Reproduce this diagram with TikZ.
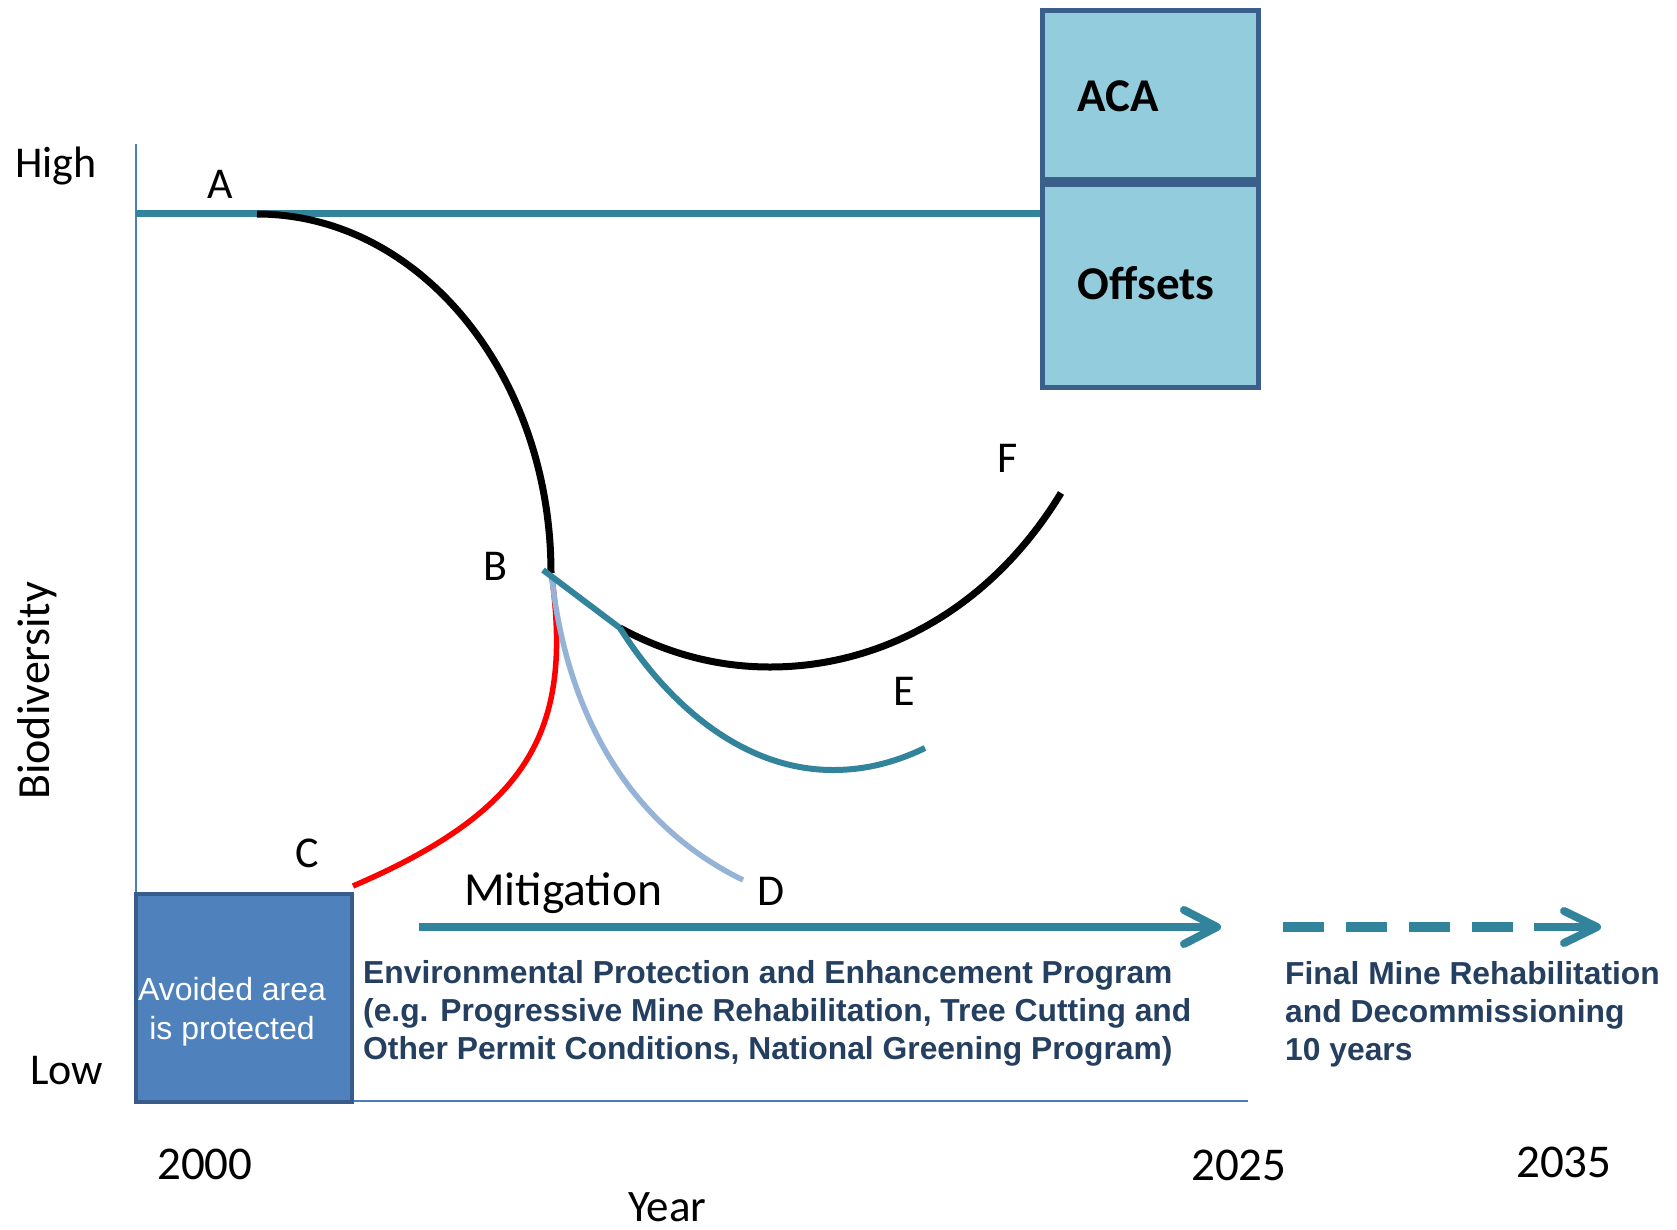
\documentclass[tikz,border=0pt]{standalone}
\usepackage{fontspec}
\setmainfont{Carlito}
\newfontfamily\arialfont{Liberation Sans}
\usetikzlibrary{calc}
\definecolor{tealc}{HTML}{31849B}
\definecolor{axisblue}{HTML}{4A7EBB}
\definecolor{boxfill}{HTML}{93CDDD}
\definecolor{boxdraw}{HTML}{3A5F8B}
\definecolor{avoidfill}{HTML}{4F81BD}
\definecolor{avoiddraw}{HTML}{385D8A}
\definecolor{ltblue}{HTML}{95B3D7}
\definecolor{txtblue}{HTML}{243F60}
\begin{document}
\begin{tikzpicture}[x=1pt,y=-1pt,
  lbl/.style={inner sep=0pt, anchor=base west, font=\fontsize{44pt}{50pt}\selectfont},
  yr/.style={inner sep=0pt, anchor=base west, font=\fontsize{47pt}{52pt}\selectfont},
  bodytxt/.style={inner sep=0pt, anchor=base west, align=left, text=txtblue,
     font=\arialfont\bfseries\fontsize{31.8pt}{38.3pt}\selectfont},
  axisline/.style={axisblue, line width=2.5pt},
  offbox/.style={draw=boxdraw, fill=boxfill, line width=5pt, minimum width=216pt, inner sep=0pt},
  boxlbl/.style={inner sep=0pt, anchor=west, font=\bfseries\fontsize{47pt}{52pt}\selectfont},
  curve/.style={line width=#1, line cap=butt},
  arrowline/.style={tealc, line width=8pt},
  chevron/.style={tealc, line width=8pt, line cap=round, line join=round}
]
\useasboundingbox (0,0) rectangle (1677,1229);
\fill[white] (0,0) rectangle (1677,1229);

% axes
\coordinate (ytop) at (136,144);
\coordinate (orig) at (136,1101);
\coordinate (xend) at (1248,1101);
\draw[axisline] (ytop) -- (orig) -- (xend);

% ACA / Offsets boxes
\node[offbox, minimum height=169.5pt] (aca) at (1150,94.75) {};
\node[offbox, minimum height=202.5pt] (off) at (1150,285.75) {};
\node[boxlbl] (acat) at ($(aca.west)+(38,1)$) {ACA};
\node[boxlbl] (offt) at ($(off.west)+(38,-3)$) {Offsets};

% baseline A
\coordinate (a0) at (136,213.5);
\draw[tealc, line width=7pt] (a0) -- (a0 -| off.west);

% curves
\coordinate (Astart) at (257,214);
\coordinate (B) at (551,573);
\coordinate (Bt) at (543,570);
\coordinate (Bk) at (552,578);
\coordinate (K) at (620,628);
\coordinate (Cend) at (353,886);
\coordinate (Dend) at (743,880);
\coordinate (Eend) at (925,748);
\coordinate (Fend) at (1061,493);

\draw[curve=7pt, black] (Astart) .. controls (419,214) and (551,374) .. (B);
\draw[curve=5.5pt, red] (Bk) .. controls (572,730) and (530,810) .. (Cend);
\draw[curve=5.5pt, ltblue] (Bk) .. controls (565,700) and (620,820) .. (Dend);
\draw[curve=7pt, black] (K) .. controls (670,655) and (720,667) .. (770,667)
   .. controls (880,667) and (990,610) .. (Fend);
\draw[curve=6pt, tealc] (Bt) -- (K);
\draw[curve=6pt, tealc] (K) .. controls (665,700) and (740,770) .. (833,770)
   .. controls (870,770) and (900,760) .. (Eend);

% avoided area box
\node[draw=avoiddraw, fill=avoidfill, line width=4pt, minimum width=216pt, minimum height=208pt, inner sep=0pt] (avoid) at (244,998) {};
\node[inner sep=0pt, anchor=base, align=center, text=white,
   font=\arialfont\fontsize{32pt}{38.5pt}\selectfont] (avoidt) at (232,1039) {Avoided area\\is protected};

% mitigation arrows
\coordinate (m0) at (419,927);
\coordinate (m1) at (1217,927);
\draw[arrowline] (m0) -- ($(m1)+(-4,0)$);
\draw[chevron] ($(m1)+(-33,-17)$) -- (m1) -- ($(m1)+(-33,17)$);

\coordinate (d0) at (1283,927);
\coordinate (d1) at (1517,927);
\coordinate (d2) at (1534,927);
\coordinate (d3) at (1597,927);
\draw[tealc, line width=10pt, dash pattern=on 41pt off 22pt] (d0) -- (d1);
\draw[arrowline] (d2) -- ($(d3)+(-4,0)$);
\draw[chevron] ($(d3)+(-33,-16)$) -- (d3) -- ($(d3)+(-33,16)$);

% labels
\node[lbl] (high) at (15,177) {High};
\node[lbl] (low) at (30,1084) {Low};
\node[lbl] (la) at (207,198) {A};
\node[lbl] (lb) at (483,580) {B};
\node[lbl] (lc) at (295,867) {C};
\node[lbl] (ld) at (757,905) {D};
\node[lbl] (le) at (893,705) {E};
\node[lbl] (lf) at (997,472) {F};
\node[inner sep=0pt, anchor=base west, font=\fontsize{47.5pt}{52pt}\selectfont] (mit) at (464,905) {Mitigation};
\node[yr] (y2000) at (157,1179) {2000};
\node[yr] (y2025) at (1191,1180) {2025};
\node[yr] (y2035) at (1516,1177) {2035};
\node[inner sep=0pt, anchor=base west, font=\fontsize{45pt}{50pt}\selectfont] (year) at (628,1221) {Year};
\node[inner sep=0pt, anchor=base west, rotate=90, font=\fontsize{46pt}{52pt}\selectfont] (bio) at (49,800) {Biodiversity};

\node[bodytxt] (prog) at (363,1059.6) {Environmental Protection and Enhancement Program\\(e.g. Progressive Mine Rehabilitation, Tree Cutting and\\Other Permit Conditions, National Greening Program)};
\node[bodytxt] (final) at (1285,1060.6) {Final Mine Rehabilitation\\and Decommissioning\\10 years};
\end{tikzpicture}
\end{document}
